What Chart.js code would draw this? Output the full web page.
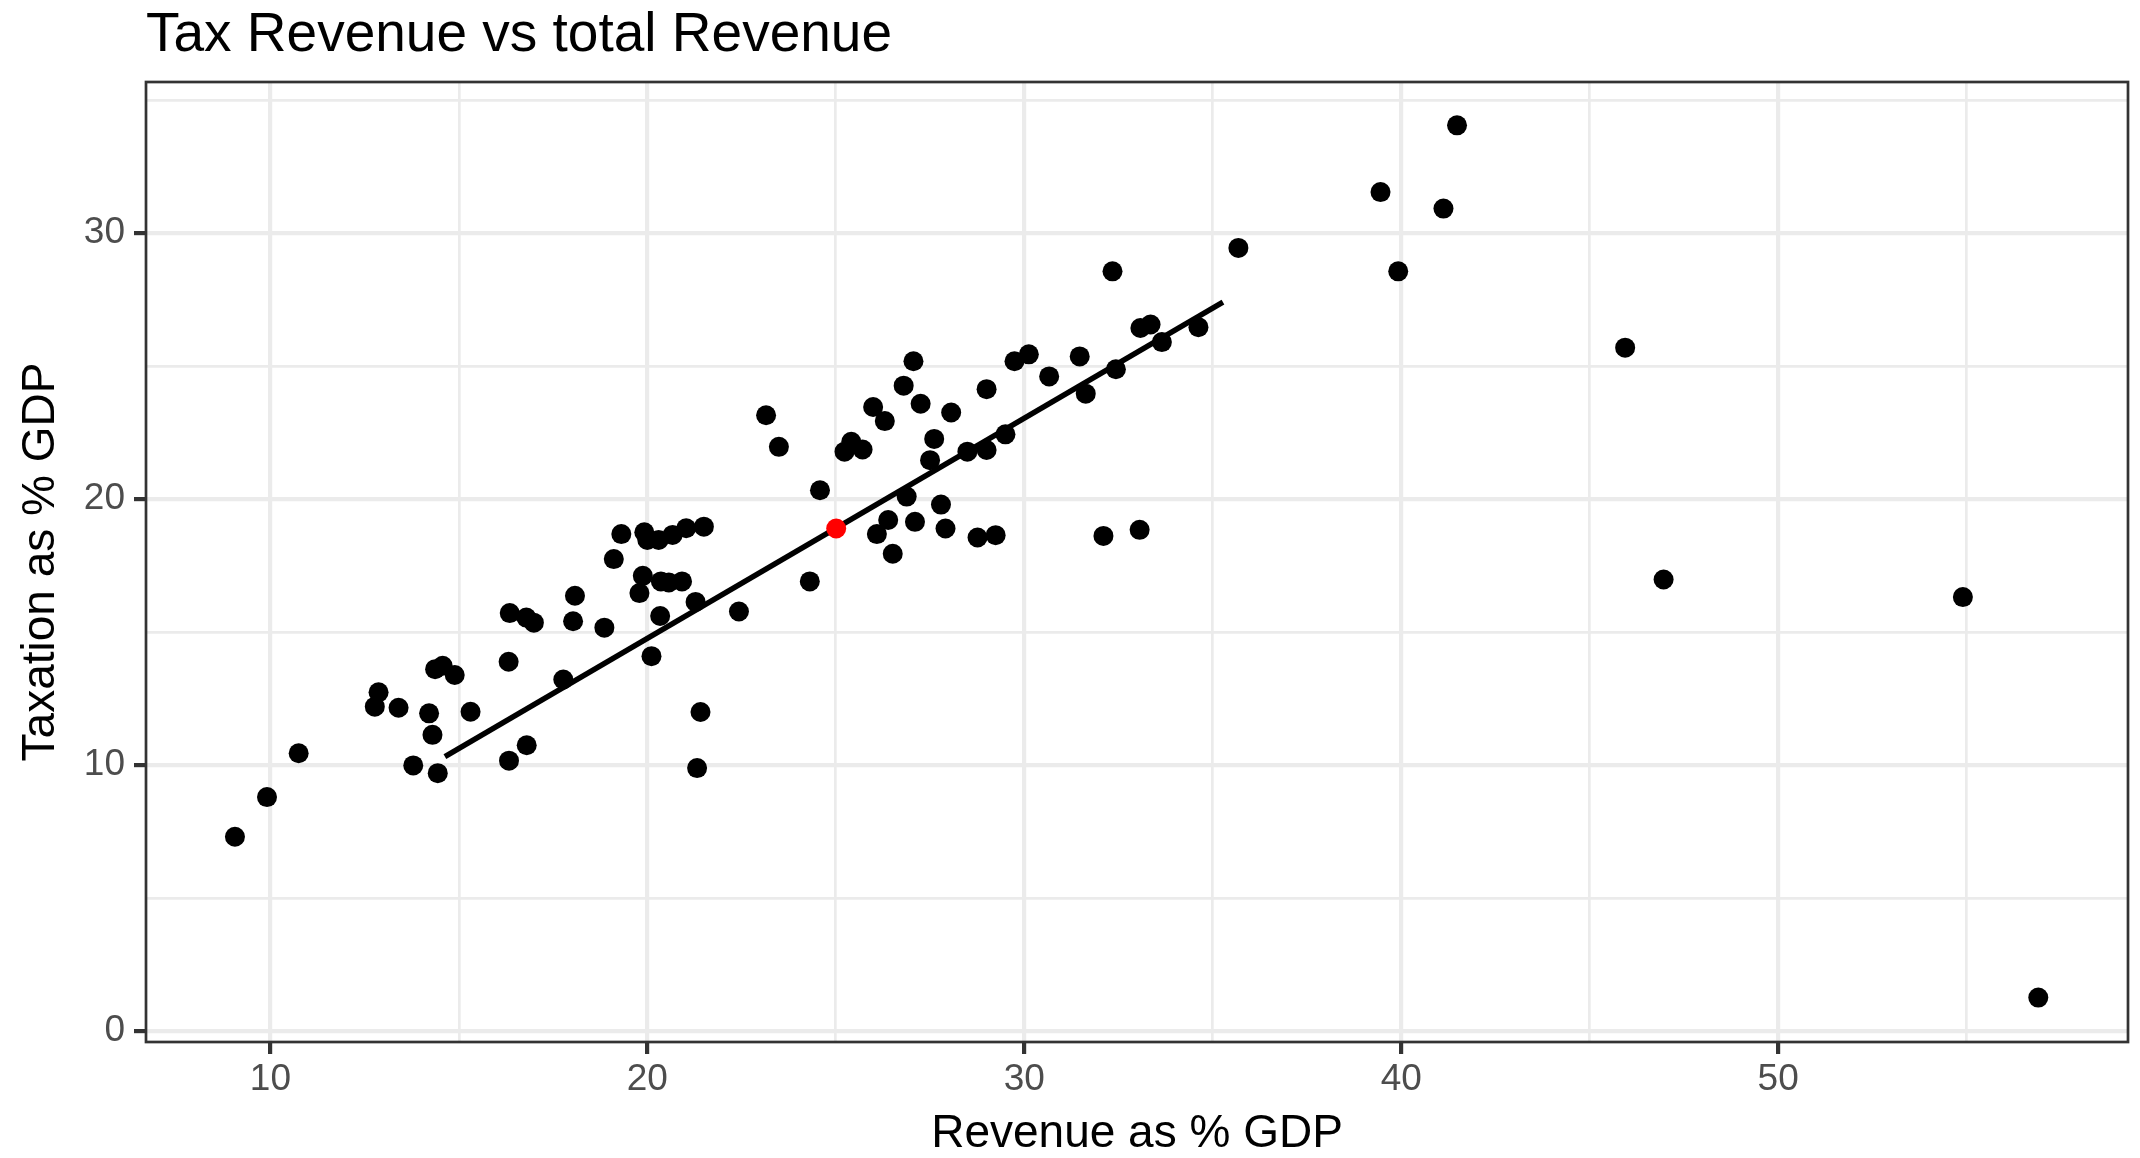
<!DOCTYPE html>
<html>
<head>
<meta charset="utf-8">
<title>Tax Revenue vs total Revenue</title>
<script src="https://cdn.jsdelivr.net/npm/chart.js@4.4.1/dist/chart.umd.min.js"></script>
<style>
  html, body { margin: 0; padding: 0; background: #ffffff; }
  canvas { display: block; }
</style>
</head>
<body>
<canvas id="ingresosChart" width="2140" height="1158"></canvas>
<script>
// Ingresos totales como % del PIB, un valor por país
const ingresos = [
    9.06, 9.91, 10.75, 12.77, 12.87, 13.40, 13.79, 14.21, 14.30, 14.37,
    14.44, 14.57, 14.89, 15.31, 16.32, 16.33, 16.35, 16.80, 16.79, 16.99,
    17.77, 18.03, 18.08, 18.86, 19.11, 19.31, 19.79, 19.88, 19.92, 20.00,
    20.11, 20.30, 20.34, 20.36, 20.57, 20.67, 20.92, 21.03, 21.28, 21.32,
    21.41, 21.50, 22.43, 23.15, 23.49, 24.31, 24.58, 25.23, 25.41, 25.71,
    25.99, 26.09, 26.30, 26.39, 26.51, 26.80, 26.88, 27.06, 27.10, 27.25,
    27.50, 27.61, 27.79, 27.91, 28.06, 28.49, 28.76, 29.00, 29.00, 29.24,
    29.50, 29.74, 30.12, 30.66, 31.47, 31.63, 32.10, 32.34, 32.43, 33.06,
    33.08, 33.35, 33.65, 34.62, 35.68, 39.45, 39.92, 41.12, 41.48, 45.94,
    46.96, 54.90, 56.90
];

// Recaudación de impuestos como % del PIB, mismo orden que ingresos
const impuestos = [
    7.30, 8.79, 10.44, 12.19, 12.73, 12.15, 9.98, 11.94, 11.13, 13.60,
    9.69, 13.73, 13.38, 12.00, 13.88, 10.16, 15.71, 10.74, 15.54, 15.35,
    13.21, 15.40, 16.36, 15.16, 17.74, 18.68, 16.46, 17.11, 18.75, 18.46,
    14.09, 18.46, 15.60, 16.90, 16.86, 18.65, 16.90, 18.90, 16.13, 9.88,
    11.99, 18.96, 15.77, 23.15, 21.96, 16.90, 20.33, 21.78, 22.15, 21.86,
    23.46, 18.68, 22.93, 19.21, 17.94, 24.26, 20.09, 25.18, 19.14, 23.58,
    21.46, 22.26, 19.79, 18.89, 23.25, 21.78, 18.55, 24.13, 21.84, 18.64,
    22.43, 25.18, 25.44, 24.61, 25.36, 23.96, 18.61, 28.56, 24.88, 18.84,
    26.43, 26.56, 25.90, 26.46, 29.44, 31.54, 28.56, 30.92, 34.05, 25.69,
    16.97, 16.31, 1.25
];

// País destacado en rojo
const destacadoX = [25.01];
const destacadoY = [18.89];

// Extremos de la recta de ajuste
const rectaX = [14.63, 35.27];
const rectaY = [10.31, 27.40];

// Rejilla (mayor y menor) y etiquetas de los ejes
const rejillaX = [10, 15, 20, 25, 30, 35, 40, 45, 50, 55];
const etiquetasX = [10, 20, 30, 40, 50];
const rejillaY = [0, 5, 10, 15, 20, 25, 30, 35];
const etiquetasY = [0, 10, 20, 30];

const FUENTE = "'Liberation Sans', Arial, Helvetica, sans-serif";

function aPuntos(xs, ys) {
    return xs.map((x, i) => ({ x: x, y: ys[i] }));
}

// Marco gris oscuro alrededor del panel
const bordePanel = {
    id: 'bordePanel',
    afterDraw(chart) {
        const { ctx, chartArea: a } = chart;
        ctx.save();
        ctx.strokeStyle = '#333333';
        ctx.lineWidth = 2.7;
        ctx.strokeRect(a.left, a.top, a.right - a.left, a.bottom - a.top);
        ctx.restore();
    }
};

function opcionesEje(rejilla, etiquetas, titulo, extra) {
    const esMayor = ctx => ctx.tick && etiquetas.includes(ctx.tick.value);
    return Object.assign({
        type: 'linear',
        afterBuildTicks: eje => {
            eje.ticks = rejilla.map(v => ({ value: v }));
        },
        grid: {
            color: '#EBEBEB',
            lineWidth: ctx => esMayor(ctx) ? 4.2 : 2.7,
            drawTicks: true,
            tickLength: 12,
            tickWidth: 4.2,
            tickColor: ctx => esMayor(ctx) ? '#333333' : 'rgba(0,0,0,0)'
        },
        border: { display: false },
        ticks: {
            color: '#4D4D4D',
            font: { family: FUENTE, size: 37, lineHeight: 1 },
            callback: v => etiquetas.includes(v) ? String(v) : ''
        },
        title: {
            display: true,
            text: titulo,
            color: '#000000',
            font: { family: FUENTE, size: 46, lineHeight: 1 }
        }
    }, extra);
}

function dibujarGrafico() {
    const ctx = document.getElementById('ingresosChart').getContext('2d');

    const ejeX = opcionesEje(rejillaX, etiquetasX, 'Revenue as % GDP', {
        position: 'bottom',
        min: 6.7,
        max: 59.28,
        afterFit: eje => { eje.height = 116; }
    });
    ejeX.ticks.padding = 7;
    ejeX.title.padding = { top: 0, bottom: 1 };

    const ejeY = opcionesEje(rejillaY, etiquetasY, 'Taxation as % GDP', {
        position: 'left',
        min: -0.42,
        max: 35.68,
        afterFit: eje => { eje.width = 146; }
    });
    ejeY.ticks.padding = 9;
    ejeY.title.padding = { top: 18, bottom: 0 };

    new Chart(ctx, {
        type: 'scatter',
        data: {
            datasets: [
                {
                    label: 'Destacado',
                    data: aPuntos(destacadoX, destacadoY),
                    backgroundColor: '#FF0000',
                    borderWidth: 0,
                    pointRadius: 10,
                    pointHoverRadius: 10,
                    order: 0
                },
                {
                    label: 'Países',
                    data: aPuntos(ingresos, impuestos),
                    backgroundColor: '#000000',
                    borderWidth: 0,
                    pointRadius: 10,
                    pointHoverRadius: 10,
                    order: 1
                },
                {
                    label: 'Ajuste',
                    data: aPuntos(rectaX, rectaY),
                    showLine: true,
                    borderColor: '#000000',
                    borderWidth: 5.5,
                    pointRadius: 0,
                    pointHoverRadius: 0,
                    order: 2
                }
            ]
        },
        options: {
            responsive: false,
            animation: false,
            devicePixelRatio: 1,
            layout: { padding: { left: 0, right: 12, top: 0, bottom: 0 } },
            scales: { x: ejeX, y: ejeY },
            plugins: {
                legend: { display: false },
                tooltip: { enabled: false },
                title: {
                    display: true,
                    text: 'Tax Revenue vs total Revenue',
                    align: 'start',
                    fullSize: false,
                    color: '#000000',
                    font: { family: FUENTE, size: 55, weight: 'normal', lineHeight: 1 },
                    padding: { top: 8, bottom: 19 }
                }
            }
        },
        plugins: [bordePanel]
    });
}

dibujarGrafico();
</script>
</body>
</html>
